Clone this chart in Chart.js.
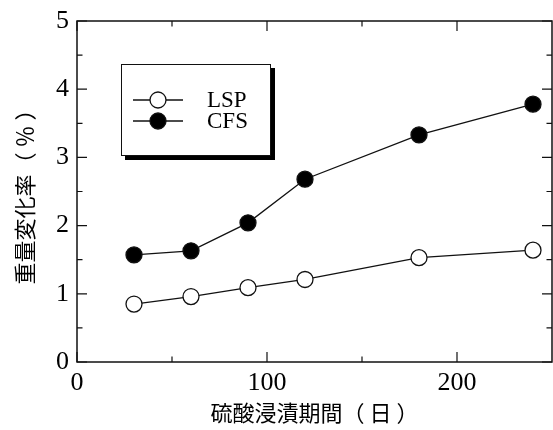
<!DOCTYPE html>
<html>
<head>
<meta charset="utf-8">
<script src="https://cdn.jsdelivr.net/npm/chart.js@4/dist/chart.umd.min.js"></script>
<style>
  html, body { margin: 0; padding: 0; background: #fff; }
  #wrap { width: 553px; height: 430px; }
</style>
</head>
<body>
<div id="wrap"><canvas id="c" width="553" height="430"></canvas></div>
<script>
// Immersion time (days) and weight change (%) for the two materials
const immersionDays = [30, 60, 90, 120, 180, 240];
const lspChange = [0.85, 0.96, 1.09, 1.21, 1.53, 1.64];
const cfsChange = [1.57, 1.63, 2.04, 2.68, 3.33, 3.78];
const seriesNames = ['LSP', 'CFS'];

// Axis ticks
const xTickValues = [0, 100, 200];
const xMinorValues = [50, 150];
const yTickValues = [0, 1, 2, 3, 4, 5];
const yMinorValues = [0.5, 1.5, 2.5, 3.5, 4.5];

const xTitle = '硫酸浸漬期間（ 日 ）';
const yTitle = '重量変化率（ ％ ）';

const SERIF = "'Liberation Serif', 'Times New Roman', serif";
const GOTHIC = "'Noto Sans CJK JP', 'Noto Sans', sans-serif";
const INK = '#111';

const toPoints = (vals) => immersionDays.map((d, i) => ({ x: d, y: vals[i] }));

// Boxed frame with inward major/minor ticks on all four sides
const framePlugin = {
  id: 'frame',
  beforeDatasetsDraw(chart) {
    const { ctx, chartArea: a, scales: { x, y } } = chart;
    ctx.save();
    ctx.strokeStyle = INK;
    ctx.lineWidth = 1.5;
    ctx.strokeRect(a.left, a.top, a.right - a.left, a.bottom - a.top);
    ctx.lineWidth = 1.2;
    const major = 10, minor = 5.5;
    ctx.beginPath();
    const xt = (v, len) => {
      const px = x.getPixelForValue(v);
      ctx.moveTo(px, a.bottom); ctx.lineTo(px, a.bottom - len);
      ctx.moveTo(px, a.top); ctx.lineTo(px, a.top + len);
    };
    const yt = (v, len) => {
      const py = y.getPixelForValue(v);
      ctx.moveTo(a.left, py); ctx.lineTo(a.left + len, py);
      ctx.moveTo(a.right, py); ctx.lineTo(a.right - len, py);
    };
    xTickValues.forEach(v => xt(v, major));
    xMinorValues.forEach(v => xt(v, minor));
    yTickValues.forEach(v => yt(v, major));
    yMinorValues.forEach(v => yt(v, minor));
    ctx.stroke();
    ctx.restore();
  }
};

// Framed legend with a drop shadow, using each dataset's own styling
const boxLegendPlugin = {
  id: 'boxLegend',
  afterDatasetsDraw(chart) {
    const { ctx } = chart;
    const bx = 121, by = 64, bw = 150, bh = 92, sh = 4;
    ctx.save();
    ctx.fillStyle = '#000';
    ctx.fillRect(bx + sh, by + sh, bw, bh);
    ctx.fillStyle = '#fff';
    ctx.fillRect(bx, by, bw, bh);
    ctx.strokeStyle = INK;
    ctx.lineWidth = 1;
    ctx.strokeRect(bx + 0.5, by + 0.5, bw - 1, bh - 1);
    chart.data.datasets.forEach((ds, i) => {
      const cy = 100 + i * 21;
      ctx.strokeStyle = ds.borderColor;
      ctx.lineWidth = ds.borderWidth;
      ctx.beginPath();
      ctx.moveTo(133, cy); ctx.lineTo(183, cy);
      ctx.stroke();
      ctx.beginPath();
      ctx.arc(158, cy, ds.pointRadius, 0, Math.PI * 2);
      ctx.fillStyle = ds.pointBackgroundColor;
      ctx.fill();
      ctx.lineWidth = ds.pointBorderWidth;
      ctx.strokeStyle = ds.pointBorderColor;
      ctx.stroke();
      ctx.fillStyle = '#000';
      ctx.font = '23px ' + SERIF;
      ctx.textBaseline = 'middle';
      ctx.textAlign = 'left';
      ctx.fillText(ds.label, 207, cy + 1);
    });
    ctx.restore();
  }
};

const seriesStyle = (fill) => ({
  borderColor: INK,
  borderWidth: 1.3,
  pointRadius: 8,
  pointHoverRadius: 8,
  pointBackgroundColor: fill,
  pointBorderColor: INK,
  pointBorderWidth: 1.3,
  showLine: true,
  tension: 0,
  clip: false
});

new Chart(document.getElementById('c'), {
  type: 'scatter',
  data: {
    datasets: [
      { label: seriesNames[0], data: toPoints(lspChange), ...seriesStyle('#fff') },
      { label: seriesNames[1], data: toPoints(cfsChange), ...seriesStyle('#000') }
    ]
  },
  options: {
    responsive: false,
    devicePixelRatio: 1,
    animation: false,
    events: [],
    layout: { autoPadding: false, padding: { top: 21, right: 1, left: 0, bottom: 0 } },
    plugins: { legend: { display: false }, tooltip: { enabled: false } },
    scales: {
      x: {
        type: 'linear',
        min: 0, max: 250,
        afterBuildTicks: (s) => { s.ticks = xTickValues.map(v => ({ value: v })); },
        afterFit: (s) => { s.height = 68; s.paddingLeft = 0; s.paddingRight = 0; },
        grid: { display: false, drawTicks: false },
        border: { display: false },
        ticks: { color: '#000', font: { family: SERIF, size: 26 }, padding: 6, maxRotation: 0 },
        title: { display: true, text: xTitle, color: '#000', font: { family: GOTHIC, size: 22 }, padding: { top: 0, bottom: 4 } }
      },
      y: {
        type: 'linear',
        min: 0, max: 5,
        afterBuildTicks: (s) => { s.ticks = yTickValues.map(v => ({ value: v })); },
        afterFit: (s) => { s.width = 77; s.paddingTop = 0; s.paddingBottom = 0; },
        grid: { display: false, drawTicks: false },
        border: { display: false },
        ticks: { color: '#000', font: { family: SERIF, size: 26 }, padding: 8 },
        title: { display: true, text: yTitle, color: '#000', font: { family: GOTHIC, size: 22 }, padding: { top: 11, bottom: 11 } }
      }
    }
  },
  plugins: [framePlugin, boxLegendPlugin]
});
</script>
</body>
</html>
